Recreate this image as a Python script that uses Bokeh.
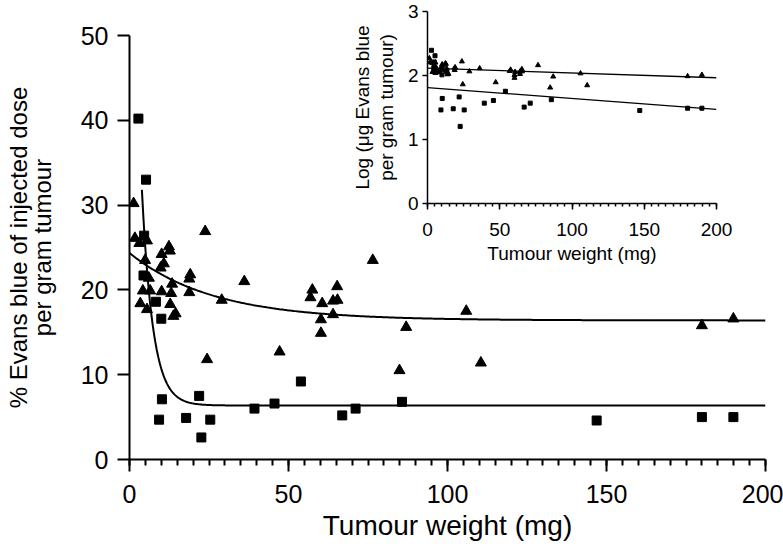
import numpy as np
from bokeh.plotting import figure
from bokeh.models import Range1d, FixedTicker, LinearAxis
from bokeh.embed import file_html
from bokeh.resources import INLINE

FONT = "Liberation Sans"

# ---- data (tumour weight mg, % injected dose per g) ----
sq_x = [2.8, 5.2, 4.6, 4.4, 8.3, 10.0, 10.2, 9.3, 17.8, 21.9, 22.6, 25.4,
        39.3, 45.6, 53.9, 66.9, 71.1, 85.7, 146.9, 180.0, 189.9]
sq_y = [40.2, 33.0, 26.4, 21.7, 18.6, 16.6, 7.1, 4.7, 4.9, 7.5, 2.6, 4.7,
        6.0, 6.6, 9.2, 5.2, 6.0, 6.8, 4.6, 5.0, 5.0]

tri_x = [1.3, 1.7, 3.1, 5.5, 4.9, 6.1, 4.2, 6.5, 3.4, 5.5, 10.1, 10.1, 12.4,
         12.7, 10.8, 9.8, 13.4, 13.1, 12.8, 14.5, 13.8, 19.1, 18.8, 18.8,
         23.8, 29.0, 24.4, 36.1, 47.2, 57.5, 56.9, 60.6, 60.2, 60.2, 64.0,
         65.3, 65.4, 64.0, 76.5, 84.9, 87.0, 105.9, 110.5, 180.0, 189.9]
tri_y = [30.2, 26.1, 25.5, 25.8, 23.5, 21.4, 19.9, 19.9, 18.4, 17.7, 19.8,
         24.2, 25.1, 24.6, 23.1, 22.6, 20.7, 19.6, 18.3, 17.2, 16.9, 21.8,
         21.3, 19.7, 26.9, 18.8, 11.8, 21.0, 12.7, 20.0, 19.1, 18.4, 16.5,
         14.9, 18.7, 20.4, 18.8, 17.1, 23.5, 10.5, 15.6, 17.5, 11.4, 15.8, 16.6]

# fitted one-phase decay curves (plateau, amplitude, rate, start x)
tri_fit = dict(plateau=16.4, amp=7.95, k=0.038, x0=0.0)
sq_fit = dict(plateau=6.37, amp=78.8, k=0.29, x0=3.9)

# inset: log10(ug Evans blue per g) = log10(% dose per g) + LOG_OFFSET
LOG_OFFSET = 0.79
tri_line = dict(intercept=2.115, slope=-0.00075)
sq_line = dict(intercept=1.81, slope=-0.0017)

x_ticks = [0, 50, 100, 150, 200]
x_minor = list(range(0, 201, 5))
y_ticks = [0, 10, 20, 30, 40, 50]
inset_y_ticks = [0, 1, 2, 3]

main_ylabel = ["% Evans blue of injected dose", "per gram tumour"]
inset_ylabel = ["Log (\u03bcg Evans blue", "per gram tumour)"]


def style_axis(ax, lw, tick_out, minor_out, label_size, title_size, label_standoff):
    ax.axis_line_width = lw
    ax.axis_line_color = "black"
    ax.major_tick_line_width = lw
    ax.minor_tick_line_width = lw
    ax.major_tick_in = 0
    ax.major_tick_out = tick_out
    ax.minor_tick_in = 0
    ax.minor_tick_out = minor_out
    ax.major_label_text_font = FONT
    ax.major_label_text_font_size = label_size
    ax.major_label_text_color = "black"
    ax.major_label_standoff = label_standoff
    ax.axis_label_text_font = FONT
    ax.axis_label_text_font_size = title_size
    ax.axis_label_text_font_style = "normal"
    ax.axis_label_text_color = "black"


def title_axis(text, size, standoff):
    """An axis with no line/ticks, used only to carry an outer title line."""
    ax = LinearAxis(ticker=FixedTicker(ticks=[], minor_ticks=[]),
                    axis_line_color=None, major_tick_line_color=None,
                    minor_tick_line_color=None, major_tick_out=0,
                    minor_tick_out=0, major_label_standoff=0,
                    axis_label=text, axis_label_standoff=standoff,
                    axis_label_text_font=FONT, axis_label_text_font_size=size,
                    axis_label_text_font_style="normal",
                    axis_label_text_color="black")
    return ax


# ---------------- main plot ----------------
p = figure(width=783, height=550, output_backend="svg", toolbar_location=None,
           x_range=Range1d(0, 200), y_range=Range1d(0, 50),
           min_border_left=129, min_border_right=18, min_border_top=35,
           min_border_bottom=91)
p.outline_line_color = None
p.grid.visible = False
p.background_fill_color = "white"

p.xaxis.ticker = FixedTicker(ticks=x_ticks, minor_ticks=x_minor)
p.yaxis.ticker = FixedTicker(ticks=y_ticks, minor_ticks=[])
style_axis(p.xaxis[0], 2, 12, 6, "25px", "28px", 13)
style_axis(p.yaxis[0], 2, 12, 6, "25px", "24px", 9)
p.xaxis.axis_label = "Tumour weight (mg)"
p.xaxis.axis_label_standoff = 4
p.yaxis.axis_label = main_ylabel[1]
p.yaxis.axis_label_standoff = 22
p.add_layout(title_axis(main_ylabel[0], "24px", -6), "left")

xt = np.linspace(tri_fit["x0"], 200, 400)
p.line(xt, tri_fit["plateau"] + tri_fit["amp"] * np.exp(-tri_fit["k"] * xt),
       line_color="black", line_width=2)
xs = np.linspace(sq_fit["x0"], 200, 800)
p.line(xs, sq_fit["plateau"] + sq_fit["amp"] * np.exp(-sq_fit["k"] * xs),
       line_color="black", line_width=2)

p.scatter(tri_x, tri_y, marker="triangle", size=11, fill_color="black",
          line_color="black")
p.scatter(sq_x, sq_y, marker="square", size=9, fill_color="black",
          line_color="black")

# ---------------- inset ----------------
inset = figure(width=396, height=273, output_backend="svg", toolbar_location=None,
               x_range=Range1d(0, 200), y_range=Range1d(0, 3),
               min_border_left=87, min_border_right=20, min_border_top=11,
               min_border_bottom=70,
               styles={"position": "absolute", "left": "340px", "top": "0px"})
inset.background_fill_alpha = 0
inset.border_fill_alpha = 0
inset.outline_line_color = None
inset.grid.visible = False
inset.xaxis.ticker = FixedTicker(ticks=x_ticks, minor_ticks=x_minor)
inset.yaxis.ticker = FixedTicker(ticks=inset_y_ticks, minor_ticks=[])
style_axis(inset.xaxis[0], 1.5, 6, 3, "19px", "19px", 13)
style_axis(inset.yaxis[0], 1.5, 5, 3, "19px", "19px", 4)
inset.xaxis.axis_label = "Tumour weight (mg)"
inset.xaxis.axis_label_standoff = 4
inset.yaxis.axis_label = inset_ylabel[1]
inset.yaxis.axis_label_standoff = 8
inset.add_layout(title_axis(inset_ylabel[0], "19px", 0), "left")

lx = np.array([0, 200])
inset.line(lx, tri_line["intercept"] + tri_line["slope"] * lx, line_color="black",
           line_width=1.3)
inset.line(lx, sq_line["intercept"] + sq_line["slope"] * lx, line_color="black",
           line_width=1.3)
inset.scatter(tri_x, np.log10(tri_y) + LOG_OFFSET, marker="triangle", size=5,
              fill_color="black", line_color="black")
inset.scatter(sq_x, np.log10(sq_y) + LOG_OFFSET, marker="square", size=4,
              fill_color="black", line_color="black")

open("out.html", "w").write(file_html([p, inset], INLINE))
